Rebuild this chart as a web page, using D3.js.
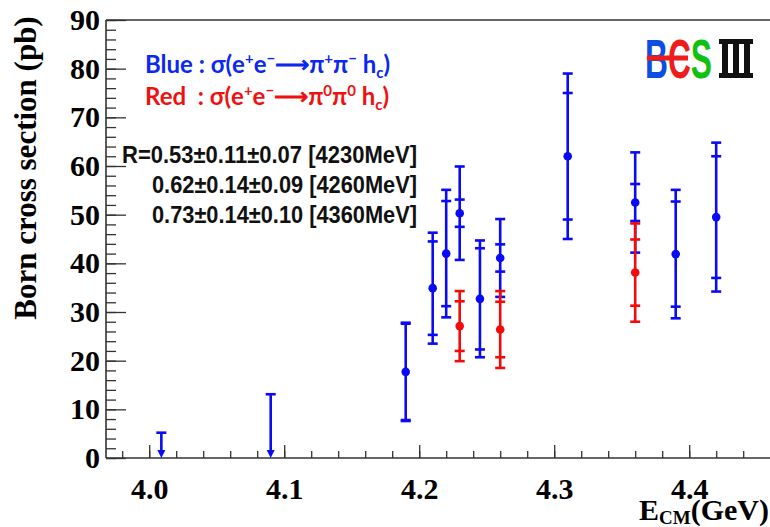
<!DOCTYPE html>
<html>
<head>
<meta charset="utf-8">
<script src="https://cdn.jsdelivr.net/npm/d3@7"></script>
<style>
  body { margin: 0; background: #fff; }
  svg { display: block; background: #fff; }
</style>
</head>
<body>
<svg width="770" height="527"></svg>
<script>
// e+e- -> pi+pi- hc (blue), value with inner and outer error
const blueE = [4.19, 4.21, 4.22, 4.23, 4.245, 4.26, 4.31, 4.36, 4.39, 4.42]
const blueSigma = [17.7, 34.9, 42.0, 50.3, 32.7, 41.1, 62.0, 52.5, 41.9, 49.5]
const blueInner = [9.9, 9.6, 10.8, 2.8, 10.4, 2.8, 13.0, 3.8, 10.8, 12.5]
const blueOuter = [10.1, 11.4, 13.1, 9.6, 12.0, 8.0, 17.0, 10.3, 13.2, 15.3]

// upper limits (blue arrows)
const limitE = [4.009, 4.09]
const limitSigma = [5.2, 13.1]

// e+e- -> pi0pi0 hc (red)
const redE = [4.23, 4.26, 4.36]
const redSigma = [27.1, 26.4, 38.1]
const redInner = [5.1, 5.7, 6.8]
const redOuter = [7.2, 7.9, 10.1]

const xMajor = [4.0, 4.1, 4.2, 4.3, 4.4]
const xMinor = d3.range(199, 223).map(i => i / 50)
const yMajor = [0, 10, 20, 30, 40, 50, 60, 70, 80, 90]
const yMinor = d3.range(0, 91, 2)

const ratioLines = [
    'R=0.53\u00b10.11\u00b10.07 [4230MeV]',
    '0.62\u00b10.14\u00b10.09 [4260MeV]',
    '0.73\u00b10.14\u00b10.10 [4360MeV]'
]

const svg = d3.select('svg')

const x = d3.scaleLinear().domain([3.968, 4.46]).range([106, 770.2])
const y = d3.scaleLinear().domain([0, 90]).range([458, 20])

const serif = '"Liberation Serif", "Times New Roman", serif'
const axisColor = '#333'

// minor ticks
svg.append('g')
    .attr('transform', 'translate(0,458)')
    .call(d3.axisBottom(x).tickValues(xMinor).tickSizeInner(-7).tickSizeOuter(0).tickFormat(''))
svg.append('g')
    .attr('transform', 'translate(106,0)')
    .call(d3.axisLeft(y).tickValues(yMinor).tickSizeInner(-10).tickSizeOuter(0).tickFormat(''))

// major ticks with labels
svg.append('g')
    .attr('class', 'xmajor')
    .attr('transform', 'translate(0,458)')
    .call(d3.axisBottom(x).tickValues(xMajor).tickSizeInner(-13).tickSizeOuter(0)
        .tickPadding(20).tickFormat(d3.format('.1f')))
svg.append('g')
    .attr('class', 'ymajor')
    .attr('transform', 'translate(106,0)')
    .call(d3.axisLeft(y).tickValues(yMajor).tickSizeInner(-20).tickSizeOuter(0)
        .tickPadding(6).tickFormat(d3.format('d')))

svg.selectAll('.domain').remove()
svg.selectAll('.tick line')
    .attr('stroke', axisColor)
    .attr('stroke-width', 1.3)
svg.selectAll('.xmajor, .ymajor')
    .attr('font-family', serif)
    .attr('font-size', 30)
    .attr('font-weight', 'bold')
svg.selectAll('.tick text').attr('fill', '#000')

// frame
const frame = svg.append('g')
    .attr('stroke', axisColor)
    .attr('stroke-width', 1.6)
frame.append('line')
    .attr('x1', x.range()[0]).attr('x2', x.range()[0])
    .attr('y1', y(0)).attr('y2', y(90))
frame.append('line')
    .attr('x1', x.range()[0]).attr('x2', x.range()[1])
    .attr('y1', y(0)).attr('y2', y(0))
frame.append('line')
    .attr('x1', x.range()[0]).attr('x2', x.range()[1])
    .attr('y1', y(90)).attr('y2', y(90))

// axis titles
svg.append('text')
    .attr('transform', 'translate(36,168) rotate(-90)')
    .attr('text-anchor', 'middle')
    .attr('font-family', serif)
    .attr('font-size', 31)
    .attr('font-weight', 'bold')
    .text('Born cross section (pb)')

const xTitle = svg.append('text')
    .attr('x', 769)
    .attr('y', 520)
    .attr('text-anchor', 'end')
    .attr('font-family', serif)
    .attr('font-size', 30)
    .attr('font-weight', 'bold')
xTitle.append('tspan').text('E')
xTitle.append('tspan').attr('font-size', 19).attr('dy', 4).text('CM')
xTitle.append('tspan').attr('dy', -4).text('(GeV)')

// error bars
function drawSeries(es, vals, inner, outer, color) {
    const g = svg.append('g')
        .attr('stroke', color)
        .attr('fill', color)
        .attr('stroke-width', 2.6)
    es.forEach((e, i) => {
        const cx = x(e)
        g.append('line')
            .attr('x1', cx).attr('x2', cx)
            .attr('y1', y(vals[i] - outer[i])).attr('y2', y(vals[i] + outer[i]))
        const caps = [vals[i] - outer[i], vals[i] + outer[i], vals[i] - inner[i], vals[i] + inner[i]]
        caps.forEach(c => {
            g.append('line')
                .attr('x1', cx - 5).attr('x2', cx + 5)
                .attr('y1', y(c)).attr('y2', y(c))
        })
        g.append('circle')
            .attr('cx', cx)
            .attr('cy', y(vals[i]))
            .attr('r', 4.3)
            .attr('stroke', 'none')
    })
}

drawSeries(blueE, blueSigma, blueInner, blueOuter, '#0a0af5')
drawSeries(redE, redSigma, redInner, redOuter, '#f50a0a')

// upper limit arrows
const limits = svg.append('g')
    .attr('stroke', '#0a0af5')
    .attr('fill', '#0a0af5')
    .attr('stroke-width', 2.6)
limitE.forEach((e, i) => {
    const cx = x(e)
    limits.append('line')
        .attr('x1', cx).attr('x2', cx)
        .attr('y1', y(limitSigma[i])).attr('y2', y(0) - 5)
    limits.append('line')
        .attr('x1', cx - 5).attr('x2', cx + 5)
        .attr('y1', y(limitSigma[i])).attr('y2', y(limitSigma[i]))
    limits.append('path')
        .attr('stroke', 'none')
        .attr('d', `M ${cx - 4} ${y(0) - 8} L ${cx + 4} ${y(0) - 8} L ${cx} ${y(0)} z`)
})

// legend
const legendFont = 'Lato, "Open Sans", "Liberation Sans", sans-serif'
function legendLine(yPos, color, label, sup1, sup2) {
    const t = svg.append('text')
        .attr('x', 145)
        .attr('y', yPos)
        .attr('fill', color)
        .attr('font-family', legendFont)
        .attr('font-size', 24)
        .attr('font-weight', 'bold')
    t.append('tspan').text(label + '\u03c3(e')
    t.append('tspan').attr('font-size', 15).attr('dy', -9).text('+')
    t.append('tspan').attr('dy', 9).text('e')
    t.append('tspan').attr('font-size', 15).attr('dy', -9).text('\u2212')
    t.append('tspan').attr('dy', 9).text('\u27f6\u03c0')
    t.append('tspan').attr('font-size', 15).attr('dy', -9).text(sup1)
    t.append('tspan').attr('dy', 9).text('\u03c0')
    t.append('tspan').attr('font-size', 15).attr('dy', -9).text(sup2)
    t.append('tspan').attr('dy', 9).text(' h')
    t.append('tspan').attr('font-size', 15).attr('dy', 5).text('c')
    t.append('tspan').attr('dy', -5).text(')')
}
legendLine(73, '#0a28f0', 'Blue : ', '+', '\u2212')
legendLine(105, '#f01010', 'Red\u00a0\u00a0: ', '0', '0')

// ratio text
const ratioX = [122, 152, 152]
const ratioLen = [295, 265, 265]
ratioLines.forEach((s, i) => {
    svg.append('text')
        .attr('x', ratioX[i])
        .attr('y', 163 + i * 30)
        .attr('font-family', '"Liberation Sans Narrow", "Liberation Sans", Arial, sans-serif')
        .attr('font-size', 23)
        .attr('font-weight', 'bold')
        .attr('fill', '#111')
        .attr('textLength', ratioLen[i])
        .attr('lengthAdjust', 'spacingAndGlyphs')
        .text(s)
})

// BESIII logo
const logo = svg.append('g')
const bes = logo.append('text')
    .attr('x', 645)
    .attr('y', 78)
    .attr('font-family', '"Liberation Sans", Arial, sans-serif')
    .attr('font-size', 55)
    .attr('font-weight', 'bold')
    .attr('textLength', 67)
    .attr('lengthAdjust', 'spacingAndGlyphs')
bes.append('tspan').attr('fill', '#0a4fe0').text('B')
bes.append('tspan').attr('fill', '#ee1c1c').text('C')
bes.append('tspan').attr('fill', '#11c011').text('S')
logo.append('line')
    .attr('x1', 647).attr('x2', 688)
    .attr('y1', 58).attr('y2', 58)
    .attr('stroke', '#ee1c1c')
    .attr('stroke-width', 5)
// roman numeral three: joined bars
const roman = logo.append('g').attr('fill', '#111')
roman.append('rect').attr('x', 719).attr('y', 39).attr('width', 34).attr('height', 5)
roman.append('rect').attr('x', 719).attr('y', 73).attr('width', 34).attr('height', 5)
d3.range(3).forEach(k => {
    roman.append('rect')
        .attr('x', 722 + k * 11).attr('y', 39)
        .attr('width', 6).attr('height', 39)
})
</script>
</body>
</html>
